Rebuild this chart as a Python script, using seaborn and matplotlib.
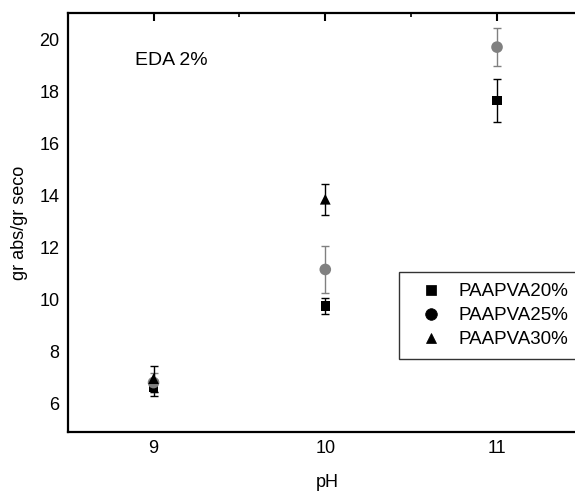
import matplotlib
matplotlib.use('Agg')
import matplotlib.pyplot as plt
import seaborn as sns
import pandas as pd
from matplotlib.ticker import MultipleLocator

#######################################################################################################################
# DATA #
#######################################################################################################################

Series_Names = ['PAAPVA20%', 'PAAPVA25%', 'PAAPVA30%']
PH_Values = {'PAAPVA20%': [9, 10, 11], 'PAAPVA25%': [9, 10, 11], 'PAAPVA30%': [9, 10]}
Absorption = {'PAAPVA20%': [6.6, 9.75, 17.65], 'PAAPVA25%': [6.8, 11.15, 19.7], 'PAAPVA30%': [6.95, 13.85]}
Errors = {'PAAPVA20%': [0.3, 0.3, 0.83], 'PAAPVA25%': [0.35, 0.9, 0.73], 'PAAPVA30%': [0.5, 0.6]}

Colors = {'PAAPVA20%': 'black', 'PAAPVA25%': '#808080', 'PAAPVA30%': 'black'}
Markers = {'PAAPVA20%': 's', 'PAAPVA25%': 'o', 'PAAPVA30%': '^'}
Sizes = {'PAAPVA20%': 45, 'PAAPVA25%': 70, 'PAAPVA30%': 60}

Rows = []
for Name in Series_Names:
    for X, Y, E in zip(PH_Values[Name], Absorption[Name], Errors[Name]):
        Rows.append({'pH': X, 'Valor': Y, 'Error': E, 'Serie': Name})
Data = pd.DataFrame(Rows)

#######################################################################################################################
# PLOT #
#######################################################################################################################

sns.set_style('white')
plt.rcParams['font.family'] = ['Liberation Sans', 'DejaVu Sans']
plt.rcParams['text.color'] = 'black'
plt.rcParams['axes.labelcolor'] = 'black'
plt.rcParams['xtick.color'] = 'black'
plt.rcParams['ytick.color'] = 'black'

Figure = plt.figure(figsize=(5.75, 4.91), dpi=100)
Axis = Figure.add_axes([0.1177, 0.1202, 0.902, 0.8527])

for Name in Series_Names:
    Subset = Data[Data['Serie'] == Name]
    Axis.errorbar(Subset['pH'], Subset['Valor'], yerr=Subset['Error'], fmt='none',
                  ecolor=Colors[Name], elinewidth=1.0, capsize=3, capthick=1.0, zorder=2)

sns.scatterplot(data=Data, x='pH', y='Valor', hue='Serie', style='Serie', hue_order=Series_Names,
                style_order=Series_Names, palette=Colors, markers=Markers, size='Serie', sizes=Sizes,
                edgecolor='none', ax=Axis, zorder=3)

Axis.set_xlim(8.5, 11.52)
Axis.set_ylim(4.9, 21)
Axis.xaxis.set_major_locator(MultipleLocator(1))
Axis.xaxis.set_minor_locator(MultipleLocator(0.5))
Axis.yaxis.set_major_locator(MultipleLocator(2))
Axis.yaxis.set_minor_locator(MultipleLocator(1))
Axis.tick_params(which='major', direction='in', length=6, width=1.5, top=True, right=True, labelsize=13, pad=6)
Axis.tick_params(which='minor', direction='in', length=3, width=1.2, top=True, right=True)
for Spine in Axis.spines.values():
    Spine.set_linewidth(1.6)
    Spine.set_color('black')

Axis.set_xlabel('pH', fontsize=13, labelpad=12)
Axis.set_ylabel('gr abs/gr seco', fontsize=13, labelpad=8)
Axis.text(8.89, 19.17, 'EDA 2%', fontsize=14, va='center', ha='left')

Legend = Axis.legend(loc='upper left', bbox_to_anchor=(399 / 575, 1 - 272 / 491), bbox_transform=Figure.transFigure,
                     fontsize=13.5, frameon=True, fancybox=False, edgecolor='black', labelspacing=0.36,
                     handletextpad=0.4, handlelength=2.2, borderpad=0.6, borderaxespad=0)
Legend.get_frame().set_linewidth(1.0)
for Handle in Legend.legend_handles:
    Handle.set_color('black')
    if hasattr(Handle, 'set_markerfacecolor'):
        Handle.set_markerfacecolor('black')
        Handle.set_markeredgecolor('black')
    else:
        Handle.set_facecolor('black')

Figure.savefig('out.png', dpi=100)
